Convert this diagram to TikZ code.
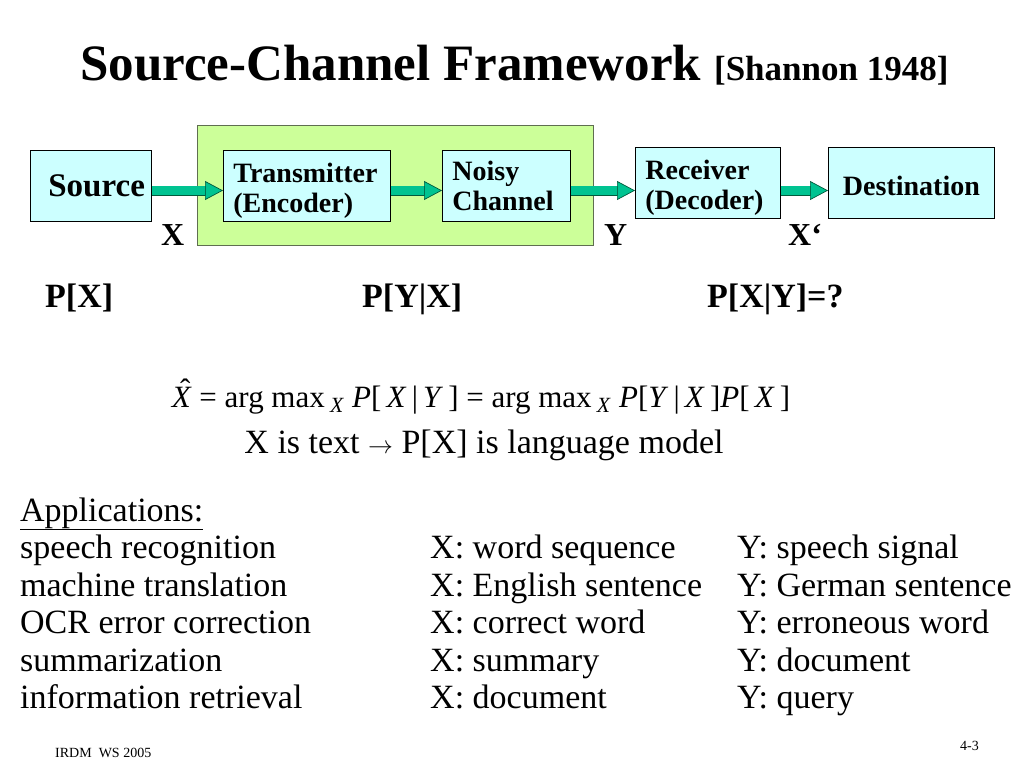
\documentclass[tikz,border=0pt]{standalone}
\usepackage{fontspec}
\setmainfont{Liberation Serif}
\usepackage{tikz}
\usetikzlibrary{arrows.meta, positioning}
\definecolor{boxcyan}{RGB}{204, 255, 255}
\definecolor{chanlime}{RGB}{204, 255, 153}
\definecolor{chanedge}{RGB}{95, 110, 80}
\definecolor{flowfill}{RGB}{0, 195, 145}
\definecolor{flowedge}{RGB}{0, 90, 60}
\newcommand{\estX}{\makebox[0pt][l]{\hspace{0.27em}\raisebox{0.2em}{ˆ}}\textit{X}}

\begin{document}
\begin{tikzpicture}[x=1pt, y=-1pt,
  box/.style={draw=black, line width=0.8pt, fill=boxcyan, anchor=north west, align=left,
    minimum height=71pt, inner xsep=10pt, inner ysep=0pt, font=\fontsize{28}{30}\selectfont\bfseries},
  chan/.style={draw=chanedge, line width=1pt, fill=chanlime, anchor=north west},
  flow/.style={line width=8.6pt, draw=flowfill,
    -{Triangle[length=18pt, width=19pt, line width'=0.7pt, color=flowedge, fill=flowfill]},
    preaction={draw=flowedge, line width=10pt, -, shorten >=13pt}},
  tag/.style={anchor=base west, inner sep=0pt, font=\fontsize{32}{34}\selectfont\bfseries},
  prob/.style={anchor=base west, inner sep=0pt, font=\fontsize{34}{36}\selectfont\bfseries},
  body/.style={anchor=base west, inner sep=0pt, font=\fontsize{34}{36}\selectfont},
  foot/.style={anchor=base west, inner sep=0pt, font=\fontsize{14}{16}\selectfont},
]
  \useasboundingbox (0,0) rectangle (1024,768);

  % Title
  \node[anchor=base west, inner sep=0pt] (title) at (80,80)
    {{\fontsize{51}{55}\selectfont\bfseries Source-Channel Framework}\hspace{13pt}{\fontsize{35}{37}\selectfont\bfseries [Shannon 1948]}};

  % Channel blocks
  \node[chan, minimum width=396pt, minimum height=120pt] (chan) at (197,125) {};
  \node[box, inner xsep=0pt, text width=121pt, font=\fontsize{33}{35}\selectfont\bfseries] (src) at (30,150) {\hspace*{18pt}Source};
  \node[box, text width=147pt] (tx) at (223,150) {\rule{0pt}{30pt}Transmitter\\(Encoder)};
  \node[box, text width=108pt] (noisy) at (442,150) {Noisy\\Channel};
  \node[box, text width=125pt] (rx) at (635,147) {\rule{0pt}{30pt}Receiver\\(Decoder)};
  \node[box, text width=146pt, align=center] (dest) at (828,147) {\rule{0pt}{25pt}Destination};

  \coordinate (lane) at (0,190.5);
  \draw[flow] (src.east |- lane) -- (tx.west |- lane);
  \draw[flow] (tx.east |- lane) -- (noisy.west |- lane);
  \draw[flow] (noisy.east |- lane) -- (rx.west |- lane);
  \draw[flow] (rx.east |- lane) -- (dest.west |- lane);

  % Signals
  \node[tag] (sigx) at (161,245) {X};
  \node[tag] (sigy) at (604,245) {Y};
  \node[tag] (sigxx) at (788,245) {X‘};

  % Probabilities
  \node[prob] (px) at (45,307) {P[X]};
  \node[prob] (pyx) at (362,307) {P[Y|X]};
  \node[prob] (pxy) at (707,307) {P[X|Y]=?};

  % Decision rule
  \node[anchor=base, inner sep=0pt, font=\fontsize{31}{33}\selectfont] (rule) at (481,407)
    {\estX\ = arg max\,\textsubscript{\textit{X}}\ \textit{P}[\,\textit{X}\,|\,\textit{Y}\,] = arg max\,\textsubscript{\textit{X}}\ \textit{P}[\textit{Y}\,|\,\textit{X}\,]\textit{P}[\,\textit{X}\,]};
  \node[body, anchor=base] (lm) at (484,453) {X is text $\rightarrow$ P[X] is language model};

  % Applications
  \node[body] (apps) at (20,521) {\underline{Applications:}};
  \foreach \task/\xs/\ys [count=\i] in {
      speech recognition/X: word sequence/Y: speech signal,
      machine translation/X: English sentence/Y: German sentence,
      OCR error correction/X: correct word/Y: erroneous word,
      summarization/X: summary/Y: document,
      information retrieval/X: document/Y: query} {
    \node[body] (task\i) at (20,521+37.5*\i) {\task};
    \node[body] (xs\i) at (430,521+37.5*\i) {\xs};
    \node[body] (ys\i) at (737,521+37.5*\i) {\ys};
  }

  % Footer
  \node[foot] (course) at (55,757) {IRDM\ \ WS 2005};
  \node[foot] (page) at (960,750) {4-3};
\end{tikzpicture}
\end{document}
